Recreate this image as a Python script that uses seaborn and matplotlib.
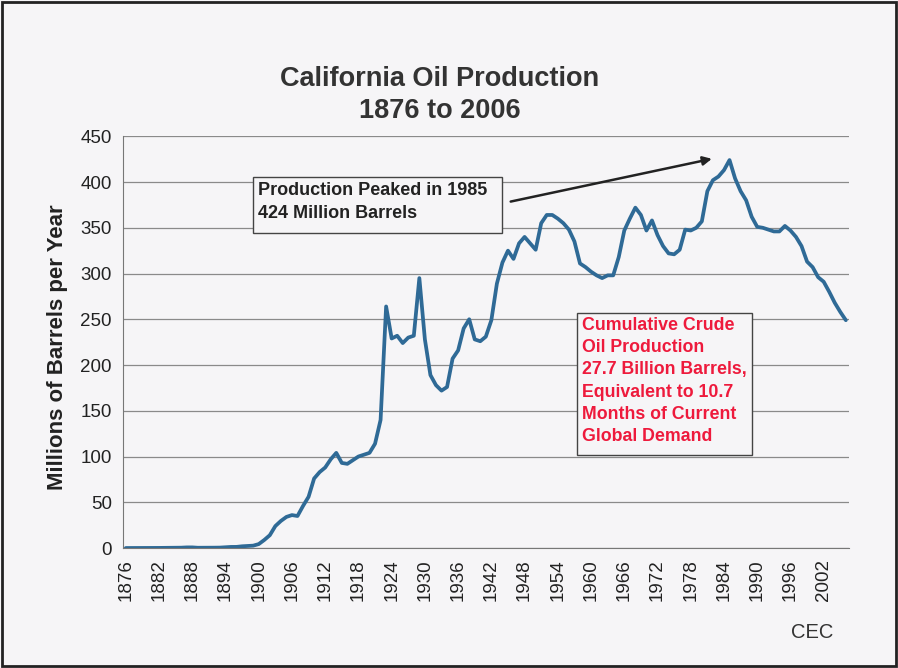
import numpy as np
import pandas as pd
import seaborn as sns
import matplotlib.pyplot as plt
from matplotlib.patches import Rectangle

# data: California crude oil production, millions of barrels per year
years = list(range(1876, 2007))
production = [
    0.01, 0.01, 0.02, 0.02, 0.04, 0.1, 0.13, 0.14, 0.26, 0.33,          # 1876-1885
    0.38, 0.68, 0.69, 0.3, 0.31, 0.32, 0.39, 0.47, 0.78, 1.2,           # 1886-1895
    1.25, 1.9, 2.25, 2.6,                                              # 1896-1899
    4.3, 8.8, 14, 24, 29.6, 34, 36, 35, 46, 56,                         # 1900-1909
    76, 83, 88, 97, 104, 93, 92, 96, 100, 102,                          # 1910-1919
    104, 114, 140, 264, 229, 232, 224, 230, 232, 295,                   # 1920-1929
    228, 189, 178, 172, 176, 207, 216, 240, 250, 228,                   # 1930-1939
    226, 231, 249, 289, 312, 325, 316, 333, 340, 333,                   # 1940-1949
    326, 355, 364, 364, 360, 355, 348, 335, 311, 307,                   # 1950-1959
    302, 298, 295, 298, 298, 318, 347, 360, 372, 364,                   # 1960-1969
    347, 358, 342, 330, 322, 321, 326, 348, 347, 350,                   # 1970-1979
    357, 390, 402, 406, 413, 424, 404, 390, 380, 362,                   # 1980-1989
    351, 350, 348, 346, 346, 352, 347, 340, 330, 313,                   # 1990-1999
    307, 296, 291, 280, 268, 258, 249,                                  # 2000-2006
]
label_years = list(range(1876, 2003, 6))
y_ticks = list(range(0, 451, 50))

df = pd.DataFrame({'year': years, 'production': production})

W, H = 898, 668


def px(x, y):
    # pixel position on the page -> figure fraction
    return x / W, 1 - y / H


bg = '#f6f5f7'
sns.set_style('white', {'axes.facecolor': bg, 'figure.facecolor': bg})
plt.rcParams['font.family'] = ['Liberation Sans', 'DejaVu Sans']

fig = plt.figure(figsize=(W / 100, H / 100), dpi=100)
ax = fig.add_axes([0.137, 0.1796, 0.808, 0.6164])

sns.lineplot(data=df, x='year', y='production', ax=ax, color='#2f6a96', linewidth=2.7)

# axes and grid
ax.set_xlim(1875.5, 2006.5)
ax.set_ylim(0, 450)
ax.set_yticks(y_ticks)
ax.yaxis.grid(True, color='#8a8a8a', linewidth=0.9)
ax.set_axisbelow(True)
for side in ['top', 'right']:
    ax.spines[side].set_visible(False)
ax.spines['left'].set_color('#777777')
ax.spines['bottom'].set_color('#777777')
ax.set_xticks(years)
ax.set_xticklabels([str(y) if y in label_years else '' for y in years],
                   rotation=90, fontsize=13.5, color='#222222')
ax.tick_params(axis='x', length=4, width=0.7, color='#777777', pad=4)
ax.tick_params(axis='y', length=0, labelsize=13.5, colors='#222222', pad=8)
ax.set_xlabel('')
ax.set_ylabel('')

# titles
fig.text(*px(440, 95), 'California Oil Production\n1876 to 2006', ha='center', va='center',
         fontsize=19.5, fontweight='bold', color='#333333', linespacing=1.32)
fig.text(*px(58, 347), 'Millions of Barrels per Year', rotation=90, ha='center',
         va='center', fontsize=16, fontweight='bold', color='#222222')
fig.text(*px(812, 632), 'CEC', ha='center', va='center', fontsize=14.5, color='#333333')

# annotation boxes
x0, y0 = px(253, 233)
x1, y1 = px(502, 177)
fig.patches.append(Rectangle((x0, y0), x1 - x0, y1 - y0, transform=fig.transFigure,
                             fc=bg, ec='#444444', lw=1, zorder=3))
fig.text(*px(258, 202), 'Production Peaked in 1985\n424 Million Barrels', ha='left', va='center',
         fontsize=13, fontweight='bold', color='#222222', linespacing=1.45, zorder=4)
ax.annotate('', xy=(1982.3, 426), xytext=(1945, 378),
            arrowprops=dict(arrowstyle='-|>', color='#222222', lw=1.8, mutation_scale=13))

x0, y0 = px(577, 455)
x1, y1 = px(752, 313)
fig.patches.append(Rectangle((x0, y0), x1 - x0, y1 - y0, transform=fig.transFigure,
                             fc=bg, ec='#444444', lw=1, zorder=3))
fig.text(*px(582, 381), 'Cumulative Crude\nOil Production\n27.7 Billion Barrels,\nEquivalent to 10.7\n'
         'Months of Current\nGlobal Demand', ha='left', va='center', fontsize=12.8,
         fontweight='bold', color='#ee1a3c', linespacing=1.4, zorder=4)

# frame around the page
fig.patches.append(Rectangle((0.002, 0.003), 0.996, 0.994, transform=fig.transFigure,
                             fill=False, ec='#222222', lw=2))

fig.savefig('out.png', dpi=100, facecolor=bg)
